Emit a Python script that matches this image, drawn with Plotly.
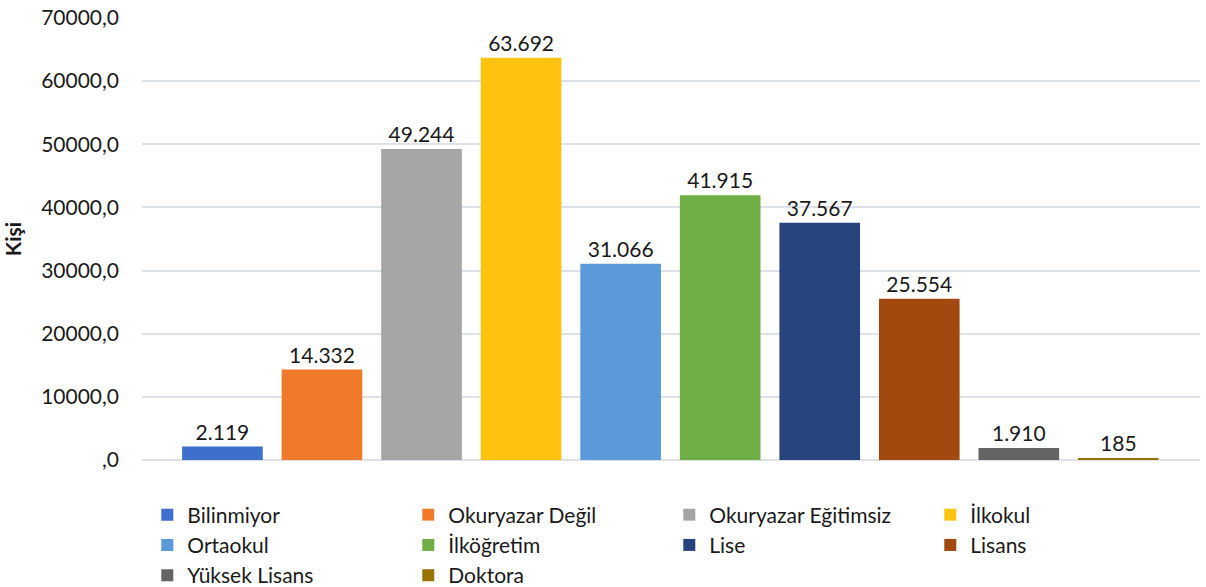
import plotly.graph_objects as go

categories = ["Bilinmiyor", "Okuryazar Değil", "Okuryazar Eğitimsiz", "İlkokul", "Ortaokul",
              "İlköğretim", "Lise", "Lisans", "Yüksek Lisans", "Doktora"]
values = [2119, 14332, 49244, 63692, 31066, 41915, 37567, 25554, 1910, 185]
colors = ["#3f6fcc", "#f07a2c", "#a5a5a5", "#fdc30f", "#5a9ad8", "#6fae45",
          "#27457c", "#a2490f", "#646464", "#997300"]
tick_vals = [0, 10000, 20000, 30000, 40000, 50000, 60000, 70000]
tick_text = [",0", "10000,0", "20000,0", "30000,0", "40000,0", "50000,0", "60000,0", "70000,0"]

FONT = "Lato"
fig = go.Figure()
for cat, val, col in zip(categories, values, colors):
    fig.add_trace(go.Bar(
        x=[cat], y=[val], name=cat, width=0.81,
        marker=dict(color=col, line=dict(width=0)),
        texttemplate="%{y:,.0f}", textposition="outside", cliponaxis=False,
        textfont=dict(family=FONT, size=21, color="#1a1a1a"),
    ))

fig.update_layout(
    width=1206, height=587,
    margin=dict(l=142, r=6, t=18, b=127, autoexpand=False),
    plot_bgcolor="white", paper_bgcolor="white",
    separators=",.",
    barmode="overlay",
    showlegend=True,
    font=dict(family=FONT, size=21, color="#1a1a1a"),
    legend=dict(orientation="h", x=0.005, xanchor="left", y=-0.078, yanchor="top",
                entrywidth=216, entrywidthmode="pixels", traceorder="normal",
                font=dict(family=FONT, size=21, color="#1a1a1a"),
                itemclick=False, tracegroupgap=0),
    xaxis=dict(range=[-0.808, 9.82], showticklabels=False, showgrid=False,
               zeroline=False, showline=False, ticks="", automargin=False),
    yaxis=dict(range=[0, 70000], tickvals=tick_vals, ticktext=tick_text,
               showgrid=True, gridcolor="#dde2ea", gridwidth=1.5,
               zeroline=True, zerolinecolor="#dde2ea", zerolinewidth=1.5,
               showline=False, ticks="", ticklabelstandoff=22, automargin=False,
               tickfont=dict(family=FONT, size=21, color="#1a1a1a"),
               title=dict(text="<b>Kişi</b>", font=dict(family=FONT, size=21, color="#1a1a1a"),
                          standoff=14)),
)

fig.write_html("out.html", config={"displayModeBar": False},
               post_script="document.body.style.margin='0';document.body.style.overflow='hidden';")
